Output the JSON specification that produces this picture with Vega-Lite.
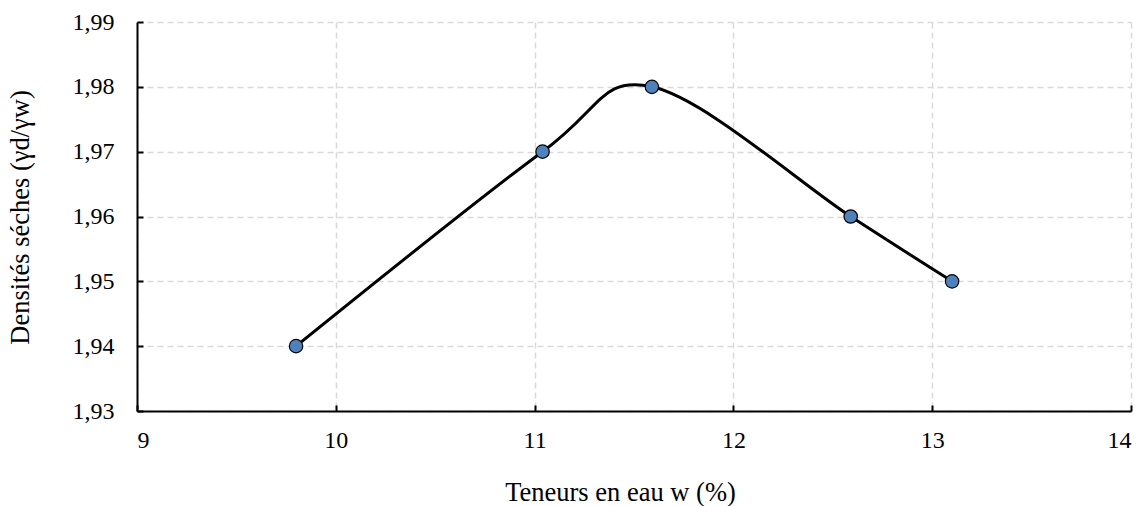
{
  "$schema": "https://vega.github.io/schema/vega-lite/v6.json",
  "autosize": {"type": "none"},
  "width": 994,
  "height": 389,
  "padding": {"left": 137, "top": 22, "right": 14, "bottom": 95},
  "background": "white",
  "config": {
    "view": {"stroke": null},
    "font": "Liberation Serif"
  },
  "data": {
    "values": [
      {"w": 9.8, "d": 1.94},
      {"w": 11.04, "d": 1.97},
      {"w": 11.59, "d": 1.98},
      {"w": 12.59, "d": 1.96},
      {"w": 13.1, "d": 1.95}
    ]
  },
  "encoding": {
    "x": {
      "field": "w",
      "type": "quantitative",
      "scale": {"domain": [9, 14], "nice": false, "zero": false},
      "axis": {
        "title": "Teneurs en eau w (%)",
        "values": [9, 10, 11, 12, 13, 14],
        "labelFont": "Liberation Serif",
        "titleFont": "Liberation Serif",
        "labelFontSize": 24,
        "titleFontSize": 26.5,
        "titleFontWeight": "normal",
        "labelColor": "black",
        "titleColor": "black",
        "domainColor": "black",
        "domainWidth": 2,
        "tickColor": "black",
        "tickWidth": 2,
        "tickSize": -6,
        "gridColor": "#d9d9d9",
        "gridWidth": 1.5,
        "gridDash": [6, 4],
        "labelPadding": 23,
        "titleX": 483,
        "titleY": 89,
        "titleAlign": "center",
        "titleBaseline": "alphabetic"
      }
    },
    "y": {
      "field": "d",
      "type": "quantitative",
      "scale": {"domain": [1.93, 1.99], "nice": false, "zero": false},
      "axis": {
        "title": "Densités séches (γd/γw)",
        "values": [1.93, 1.94, 1.95, 1.96, 1.97, 1.98, 1.99],
        "labelExpr": "replace(format(datum.value, '.2f'), '.', ',')",
        "labelFont": "Liberation Serif",
        "titleFont": "Liberation Serif",
        "labelFontSize": 24,
        "titleFontSize": 26.5,
        "titleFontWeight": "normal",
        "labelColor": "black",
        "titleColor": "black",
        "domainColor": "black",
        "domainWidth": 2,
        "tickColor": "black",
        "tickWidth": 2,
        "tickSize": -6,
        "gridColor": "#d9d9d9",
        "gridWidth": 1.5,
        "gridDash": [6, 4],
        "labelPadding": 29,
        "titleX": -117,
        "titleY": 195,
        "titleAlign": "center",
        "titleBaseline": "middle",
        "titleAngle": -90
      }
    }
  },
  "layer": [
    {
      "mark": {"type": "line", "interpolate": "cardinal", "color": "black", "strokeWidth": 3}
    },
    {
      "mark": {"type": "point", "filled": true, "fill": "#4f81bd", "stroke": "black", "strokeWidth": 1.2, "size": 180, "opacity": 1}
    }
  ]
}
